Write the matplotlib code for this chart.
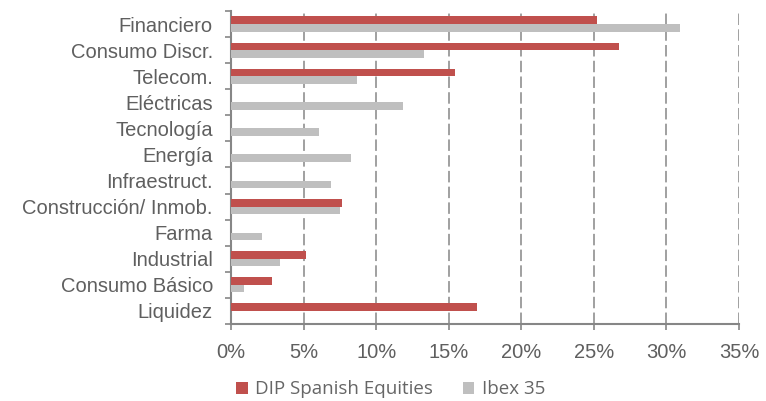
import matplotlib.pyplot as plt
import numpy as np
from matplotlib.ticker import FuncFormatter, MultipleLocator

categories = [
    "Financiero", "Consumo Discr.", "Telecom.", "Eléctricas", "Tecnología",
    "Energía", "Infraestruct.", "Construcción/ Inmob.", "Farma", "Industrial",
    "Consumo Básico", "Liquidez",
]
dip_values = [25.2, 26.7, 15.4, 0, 0, 0, 0, 7.66, 0, 5.17, 2.8, 16.95]
ibex_values = [30.9, 13.3, 8.7, 11.85, 6.08, 8.24, 6.87, 7.54, 2.1, 3.38, 0.89, 0]

RED = "#C0504D"
GRAY = "#BFBFBF"
AXIS = "#868686"
TEXT = "#5f5f5f"

plt.rcParams["font.family"] = ["Liberation Sans", "DejaVu Sans"]

fig = plt.figure(figsize=(7.66, 4.01), dpi=100)
ax = fig.add_axes([0.3016, 0.192, 0.6632, 0.7806])

n = len(categories)
y = np.arange(n)
h = 0.29
ax.barh(y - h / 2, dip_values, height=h, color=RED, label="DIP Spanish Equities", zorder=3)
ax.barh(y + h / 2, ibex_values, height=h, color=GRAY, label="Ibex 35", zorder=3)

ax.set_ylim(n - 0.5, -0.5)
ax.set_xlim(0, 35)
ax.xaxis.set_major_locator(MultipleLocator(5))
ax.xaxis.set_major_formatter(FuncFormatter(lambda v, _: f"{v:.0f}%"))
ax.set_yticks(y)
ax.set_yticklabels(categories)
ax.set_yticks(np.arange(-0.5, n, 1), minor=True)

ax.grid(axis="x", color=AXIS, linestyle=(0, (7.5, 2.8)), linewidth=1.1, zorder=0)
for side in ("top", "right"):
    ax.spines[side].set_visible(False)
for side in ("left", "bottom"):
    ax.spines[side].set_color(AXIS)
    ax.spines[side].set_linewidth(1.5)

ax.tick_params(axis="y", which="major", length=0, pad=13, labelsize=14.5, labelcolor=TEXT)
ax.tick_params(axis="y", which="minor", length=4, color=AXIS, width=1.2)
ax.tick_params(axis="x", length=4, color=AXIS, width=1.2, pad=10, labelsize=14.5, labelcolor=TEXT)

fig.legend(
    loc="lower center", bbox_to_anchor=(0.51, -0.035), ncol=2, frameon=False,
    handlelength=0.6, handleheight=0.6, columnspacing=1.6, handletextpad=0.4,
    prop={"family": "Open Sans", "size": 13.5}, labelcolor="#666666",
)

fig.savefig("out.png", dpi=100)
